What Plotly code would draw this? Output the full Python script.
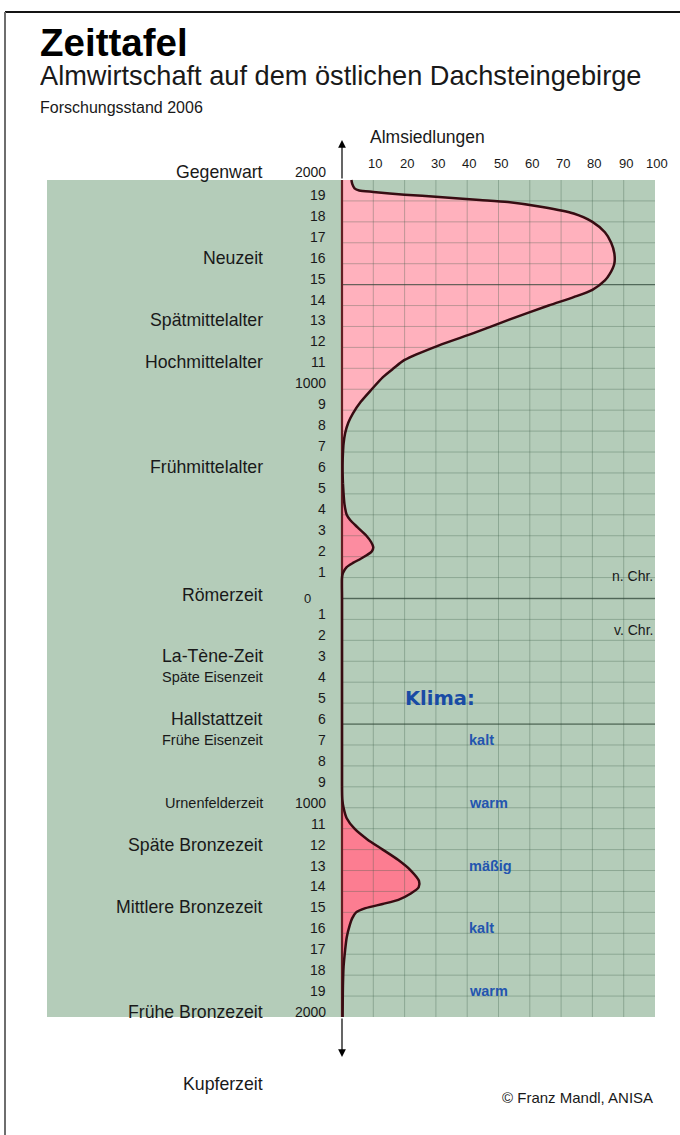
import plotly.graph_objects as go

# ---------------- data ----------------
# Almsiedlungen (number of alpine settlements) by year; negative years = v. Chr.
years_top = [2000, 1980, 1960, 1950, 1943, 1930, 1919, 1905, 1895, 1871, 1840, 1800, 1750,
             1700, 1650, 1600, 1550, 1520, 1475, 1440, 1400, 1330, 1268, 1210, 1140, 1100,
             1057, 1000, 940, 885, 840, 790, 740, 694, 650, 600, 550]
vals_top = [3, 3.3, 4, 5.5, 10, 20, 31, 44, 53, 64, 74, 80, 84,
            86, 87, 87, 85.5, 84, 80, 74, 66, 53, 42, 31, 20, 16.5,
            13, 9.5, 6, 3.5, 2, 1, 0.5, 0.3, 0.2, 0.2, 0.3]

years_mid = [550, 500, 450, 400, 375, 340, 300, 270, 245, 225, 208, 190, 170, 150, 122, 100, 0, -500, -900]
vals_mid = [0.3, 0.5, 0.8, 1.5, 2.6, 5, 7.8, 9.3, 10, 9.5, 8, 6, 3.5, 1.5, 0.3, 0, 0, 0, 0]

years_low = [-900, -960, -1000, -1050, -1100, -1150, -1200, -1250, -1300, -1350, -1380, -1410,
             -1440, -1460, -1480, -1500, -1530, -1560, -1620, -1680, -1760, -1850, -2000]
vals_low = [0, 0.1, 0.5, 1.5, 4, 8, 13, 18, 22, 24.6, 24.5, 22,
            18, 13, 7.5, 4.5, 3.2, 2.5, 1.5, 1, 0.5, 0.3, 0.2]

x_ticks = [10, 20, 30, 40, 50, 60, 70, 80, 90, 100]
x_tick_labels = ["10", "20", "30", "40", "50", "60", "70", "80", "90", "100"]

year_ticks_ad = [2000, 1900, 1800, 1700, 1600, 1500, 1400, 1300, 1200, 1100,
                 1000, 900, 800, 700, 600, 500, 400, 300, 200, 100]
year_labels_ad = ["2000", "19", "18", "17", "16", "15", "14", "13", "12", "11",
                  "1000", "9", "8", "7", "6", "5", "4", "3", "2", "1"]
year_ticks_bc = [-100, -200, -300, -400, -500, -600, -700, -800, -900, -1000,
                 -1100, -1200, -1300, -1400, -1500, -1600, -1700, -1800, -1900, -2000]
year_labels_bc = ["1", "2", "3", "4", "5", "6", "7", "8", "9", "1000",
                  "11", "12", "13", "14", "15", "16", "17", "18", "19", "2000"]

period_names = ["Gegenwart", "Neuzeit", "Spätmittelalter", "Hochmittelalter", "Frühmittelalter",
                "Römerzeit", "La-Tène-Zeit", "Späte Eisenzeit", "Hallstattzeit", "Frühe Eisenzeit",
                "Urnenfelderzeit", "Späte Bronzezeit", "Mittlere Bronzezeit", "Frühe Bronzezeit",
                "Kupferzeit"]
period_years = [2000, 1600, 1300, 1100, 600, 0, -300, -400, -600, -700,
                -1000, -1200, -1500, -2000, -2320]
period_small = [False, False, False, False, False, False, False, True, False, True,
                True, False, False, False, False]

climate_names = ["kalt", "warm", "mäßig", "kalt", "warm"]
climate_years = [-700, -1000, -1300, -1600, -1900]

grid_x = [10, 20, 30, 40, 50, 60, 70, 80, 90]
grid_y = [y for y in range(1900, -2000, -100)]
strong_grid_y = [1500, 0, -600]

# ---------------- styling ----------------
W, H = 680, 1135
FONT = "Liberation Sans, Arial, sans-serif"
GREEN = "rgb(180,204,185)"
PINK_TOP = "rgb(255,177,189)"
PINK_MID = "rgb(252,140,160)"
PINK_LOW = "rgb(252,125,145)"
CURVE = "rgb(55,12,18)"
BLUE = "rgb(35,85,175)"

# pixel calibration: x=0 at 342px, 3.13 px per unit; 2000 n.Chr. at 180px, 20.925 px per century
X_MIN, X_MAX = -342 / 3.13, (W - 342) / 3.13
Y_MAX = 2000 + 180 / 20.925 * 100
Y_MIN = 2000 - (H - 180) / 20.925 * 100

fig = go.Figure()

# fills
for yy, vv, col in [(years_top, vals_top, PINK_TOP), (years_mid, vals_mid, PINK_MID),
                    (years_low, vals_low, PINK_LOW)]:
    fig.add_trace(go.Scatter(x=vv, y=yy, mode="lines", fill="tozerox", fillcolor=col,
                             line=dict(width=0, shape="spline", smoothing=0.7),
                             hoverinfo="skip", showlegend=False))

# grid lines (drawn as traces so they show through the pink fill)
gx, gy = [], []
for v in grid_x:
    gx += [v, v, None]
    gy += [2000, -2000, None]
for y in grid_y:
    gx += [0, 100, None]
    gy += [y, y, None]
fig.add_trace(go.Scatter(x=gx, y=gy, mode="lines", line=dict(color="rgba(60,95,72,0.33)", width=1),
                         hoverinfo="skip", showlegend=False))
sx, sy = [], []
for y in strong_grid_y:
    sx += [0, 100, None]
    sy += [y, y, None]
fig.add_trace(go.Scatter(x=sx, y=sy, mode="lines", line=dict(color="rgba(40,60,48,0.6)", width=1.3),
                         hoverinfo="skip", showlegend=False))

# axis line inside the grid
fig.add_trace(go.Scatter(x=[0, 0], y=[2000, -2000], mode="lines",
                         line=dict(color="rgb(100,30,35)", width=2.2),
                         hoverinfo="skip", showlegend=False))

# curve outline
for yy, vv in [(years_top, vals_top), (years_mid, vals_mid), (years_low, vals_low)]:
    fig.add_trace(go.Scatter(x=vv, y=yy, mode="lines",
                             line=dict(color=CURVE, width=2.5, shape="spline", smoothing=0.7),
                             hoverinfo="skip", showlegend=False))

shapes = [
    dict(type="rect", xref="x", yref="y", x0=-94.25, x1=100, y0=-2000, y1=2000,
         fillcolor=GREEN, line=dict(width=0), layer="below"),
    dict(type="line", xref="paper", yref="paper", x0=5 / W, x1=1, y0=1 - 12 / H, y1=1 - 12 / H,
         line=dict(color="rgb(20,20,20)", width=2)),
    dict(type="line", xref="paper", yref="paper", x0=5 / W, x1=5 / W, y0=1 - 12 / H, y1=0,
         line=dict(color="rgb(110,110,110)", width=2)),
]

ann = []
tip = 2000 + 40 / 20.925 * 100
# axis arrows
ann.append(dict(x=0, y=tip, ax=0, ay=2000, xref="x", yref="y", axref="x", ayref="y", text="",
                showarrow=True, arrowhead=2, arrowsize=1.3, arrowwidth=1.2, arrowcolor="black"))
ann.append(dict(x=0, y=-tip, ax=0, ay=-2000, xref="x", yref="y", axref="x", ayref="y", text="",
                showarrow=True, arrowhead=2, arrowsize=1.3, arrowwidth=1.2, arrowcolor="black"))

def txt(x, y, s, size, xanchor="left", color="rgb(25,25,25)", xref="x", yref="y",
        yshift=0, xshift=0, family=FONT, height=None):
    a = dict(x=x, y=y, xref=xref, yref=yref, text=s, showarrow=False,
             xanchor=xanchor, yanchor="middle", xshift=xshift, yshift=yshift,
             font=dict(family=family, size=size, color=color))
    if height is not None:
        a["height"] = height
    ann.append(a)

# titles
txt(38 / W, 1 - 42 / H, "<b>Zeittafel</b>", 38.5, xref="paper", yref="paper", color="black",
    height=31)
txt(38 / W, 1 - 76 / H, "Almwirtschaft auf dem östlichen Dachsteingebirge", 27.2,
    xref="paper", yref="paper", height=33)
txt(38 / W, 1 - 107 / H, "Forschungsstand 2006", 16, xref="paper", yref="paper")

# top axis
txt(8.3, 2000, "Almsiedlungen", 17.5, yshift=43)
for v, lab in zip(x_ticks, x_tick_labels):
    txt(v, 2000, lab, 13, xanchor="center", yshift=17, xshift=2)

# year labels
for y, lab in zip(year_ticks_ad, year_labels_ad):
    txt(0, y, lab, 14, xanchor="right", xshift=-14, yshift=8 if y == 2000 else 6)
txt(0, 0, "0", 13, xanchor="center", xshift=-35)
for y, lab in zip(year_ticks_bc, year_labels_bc):
    txt(0, y, lab, 14, xanchor="right", xshift=-14, yshift=5)

# periods
for name, y, small in zip(period_names, period_years, period_small):
    sh = 8 if y == 2000 else (4 if y == 0 else (0 if y < -2000 else 5 if y < 0 else 6))
    txt(0, y, name, 14.5 if small else 17.7, xanchor="right", xshift=-77, yshift=sh)

# era markers
txt(100, 100, "n. Chr.", 14, xanchor="right", yshift=2)
txt(100, -150, "v. Chr.", 14, xanchor="right")

# climate
txt(19.5, -500, "<b>Klima:</b>", 19.5, color="rgb(25,75,165)", yshift=5,
    family="DejaVu Sans, sans-serif")
for name, y in zip(climate_names, climate_years):
    txt(40, y, "<b>" + name + "</b>", 14.5, color=BLUE, yshift=5,
        family="Liberation Sans Narrow, Arial Narrow, Liberation Sans, sans-serif")

# copyright
txt(1 - 25 / W, 1 - 1097 / H, "© Franz Mandl, ANISA", 15, xanchor="right", xref="paper", yref="paper")

fig.update_layout(
    width=W, height=H, margin=dict(l=0, r=0, t=0, b=0),
    paper_bgcolor="white", plot_bgcolor="rgba(0,0,0,0)",
    xaxis=dict(range=[X_MIN, X_MAX], visible=False, fixedrange=True),
    yaxis=dict(range=[Y_MIN, Y_MAX], visible=False, fixedrange=True),
    shapes=shapes, annotations=ann, showlegend=False,
)

fig.write_html("out.html", config={"displayModeBar": False},
               post_script="document.body.style.margin='0';document.body.style.overflow='hidden';")
